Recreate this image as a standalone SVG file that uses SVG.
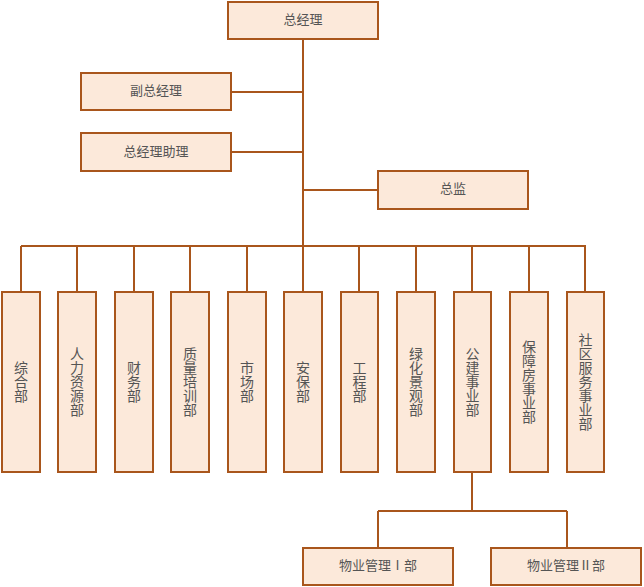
<svg xmlns="http://www.w3.org/2000/svg" width="644" height="587" viewBox="0 0 644 587">
<style>
.box{fill:#fce9da;stroke:#a9561c;stroke-width:2}
.t{font-family:"Noto Sans CJK SC","Liberation Sans",sans-serif;font-size:13px;fill:#555;text-anchor:middle}
.v{writing-mode:vertical-rl;font-size:14px;dominant-baseline:central}
.ln{stroke:#a9561c;stroke-width:2;fill:none}
</style>
<rect width="644" height="587" fill="#fff"/>
<g id="connectors">
<path class="ln" d="M303 39V246M231 92H303M231 152H303M303 190H378M21 246H586M21 246V292M77 246V292M134 246V292M190 246V292M247 246V292M303 246V292M359 246V292M416 246V292M472 246V292M529 246V292M585 246V292M472 472V511M378 511H567M378 511V548M567 511V548"/>
</g>
<g id="n_gm"><rect class="box" x="228" y="2" width="150" height="37"/><text class="t" x="303" y="23.5">总经理</text></g>
<g id="n_vgm"><rect class="box" x="81" y="73" width="150" height="37"/><text class="t" x="156" y="95">副总经理</text></g>
<g id="n_agm"><rect class="box" x="81" y="133" width="150" height="38"/><text class="t" x="156" y="155.5">总经理助理</text></g>
<g id="n_dir"><rect class="box" x="378" y="171" width="150" height="38"/><text class="t" x="453" y="193">总监</text></g>
<g id="d1"><rect class="box" x="2" y="292" width="38" height="180"/><text class="t v" x="21" y="382">综合部</text></g>
<g id="d2"><rect class="box" x="58" y="292" width="38" height="180"/><text class="t v" x="77" y="382">人力资源部</text></g>
<g id="d3"><rect class="box" x="115" y="292" width="38" height="180"/><text class="t v" x="134" y="382">财务部</text></g>
<g id="d4"><rect class="box" x="171" y="292" width="38" height="180"/><text class="t v" x="190" y="382">质量培训部</text></g>
<g id="d5"><rect class="box" x="228" y="292" width="38" height="180"/><text class="t v" x="247" y="382">市场部</text></g>
<g id="d6"><rect class="box" x="284" y="292" width="38" height="180"/><text class="t v" x="303" y="382">安保部</text></g>
<g id="d7"><rect class="box" x="341" y="292" width="37" height="180"/><text class="t v" x="359.5" y="382">工程部</text></g>
<g id="d8"><rect class="box" x="397" y="292" width="38" height="180"/><text class="t v" x="416" y="382">绿化景观部</text></g>
<g id="d9"><rect class="box" x="454" y="292" width="37" height="180"/><text class="t v" x="472.5" y="382">公建事业部</text></g>
<g id="d10"><rect class="box" x="510" y="292" width="38" height="180"/><text class="t v" x="529" y="382">保障房事业部</text></g>
<g id="d11"><rect class="box" x="567" y="292" width="37" height="180"/><text class="t v" x="585.5" y="382">社区服务事业部</text></g>
<g id="p1"><rect class="box" x="303" y="548" width="150" height="37"/><text class="t" x="378" y="570">物业管理Ⅰ部</text></g>
<g id="p2"><rect class="box" x="491" y="548" width="150" height="37"/><text class="t" x="566" y="570">物业管理Ⅱ部</text></g>
</svg>
